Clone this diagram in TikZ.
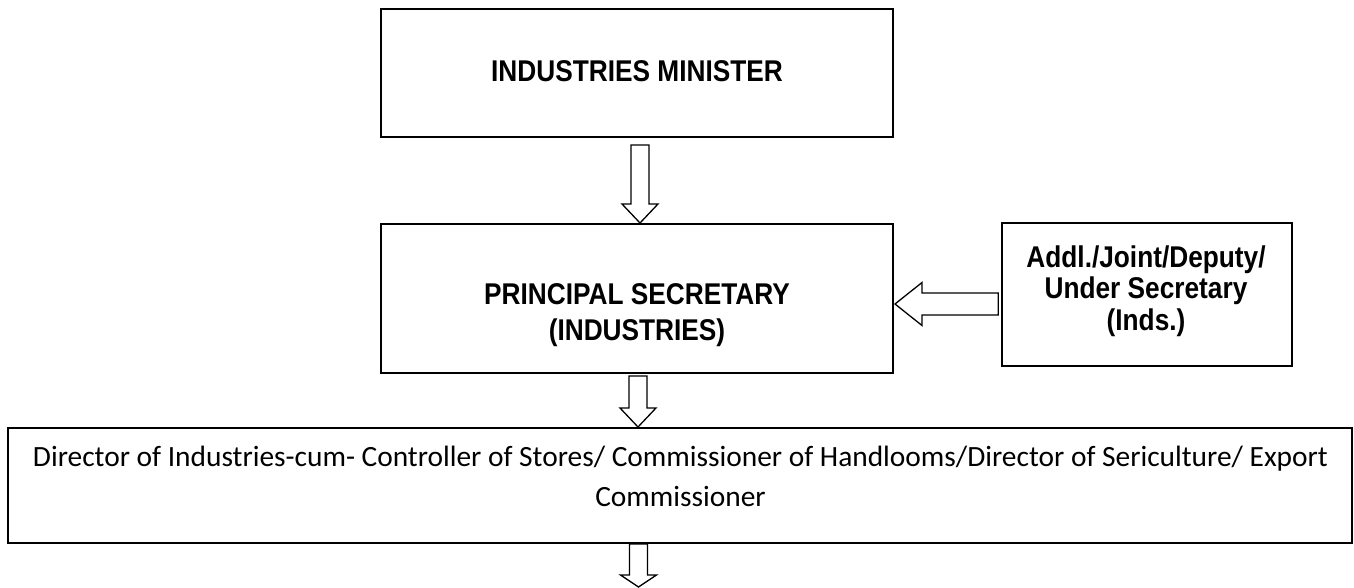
\documentclass[tikz,border=0pt]{standalone}
\usepackage{fontspec}
\setmainfont{Carlito}
\newfontfamily\narrowbold[FakeStretch=0.875]{Liberation Sans Bold}
\usetikzlibrary{calc}
\tikzset{
  thickbox/.style={draw=black, line width=2.3pt, minimum width=512pt},
  thinbox/.style={draw=black, line width=1.6pt},
  narrowtxt/.style={anchor=base, inner sep=0pt, font=\narrowbold\fontsize{30}{32}\selectfont},
  plaintxt/.style={anchor=base, inner sep=0pt, font=\fontsize{29.4}{40}\selectfont},
  barrow/.style={draw=black, line width=1.3pt, fill=white, line join=miter},
}
% #1 start, #2 tip, #3 head length
\newcommand\downblock[3]{%
  \draw[barrow] let \p1=(#1), \p2=(#2) in
    (\x1-9pt,\y1) -- (\x1+9pt,\y1) -- (\x1+9pt,\y2+#3) -- (\x1+18pt,\y2+#3)
    -- (\x2,\y2) -- (\x1-18pt,\y2+#3) -- (\x1-9pt,\y2+#3) -- cycle;}
\begin{document}
\begin{tikzpicture}[x=1pt,y=-1pt]
\useasboundingbox (0,0) rectangle (1354,588);
% boxes
\node[thickbox, minimum height=128pt] (b1) at (637,73) {};
\node[thickbox, minimum height=149pt] (b2) at (637,298.5) {};
\node[thinbox, minimum width=290pt, minimum height=143pt] (b3) at (1147,294.5) {};
\node[thinbox, minimum width=1344pt, minimum height=115pt] (b4) at (680,485.5) {};
% texts
\node[narrowtxt] (t1) at (637,82) {INDUSTRIES MINISTER};
\node[narrowtxt] (t2a) at (637,304) {PRINCIPAL SECRETARY};
\node[narrowtxt] (t2b) at (637,340) {(INDUSTRIES)};
\node[narrowtxt] (t3a) at (1146,267) {Addl./Joint/Deputy/};
\node[narrowtxt] (t3b) at (1146,298.5) {Under Secretary};
\node[narrowtxt] (t3c) at (1146,330) {(Inds.)};
\node[plaintxt] (t4a) at (680.5,466) {Director of Industries-cum- Controller of Stores/ Commissioner of Handlooms/Director of Sericulture/ Export};
\node[plaintxt] (t4b) at (680.5,506) {Commissioner};
% connector end points
\coordinate (a1s) at (640,145);
\coordinate (a1e) at (640,223);
\coordinate (a2s) at (638,376);
\coordinate (a2e) at (638,427);
\coordinate (a3s) at (638.5,544);
\coordinate (a3e) at (638.5,587);
\coordinate (a4s) at (b3.west |- 0,304);
\coordinate (a4e) at (895,304);
% block arrows
\downblock{a1s}{a1e}{19pt}
\downblock{a2s}{a2e}{19pt}
\downblock{a3s}{a3e}{12pt}
\draw[barrow] let \p1=(a4s), \p2=(a4e) in
  (\x1-3pt,\y1+11pt) -- (\x2+27pt,\y1+11pt) -- (\x2+27pt,\y1+21.5pt) -- (\x2,\y2)
  -- (\x2+27pt,\y1-21.5pt) -- (\x2+27pt,\y1-11pt) -- (\x1-3pt,\y1-11pt) -- cycle;
\end{tikzpicture}
\end{document}
